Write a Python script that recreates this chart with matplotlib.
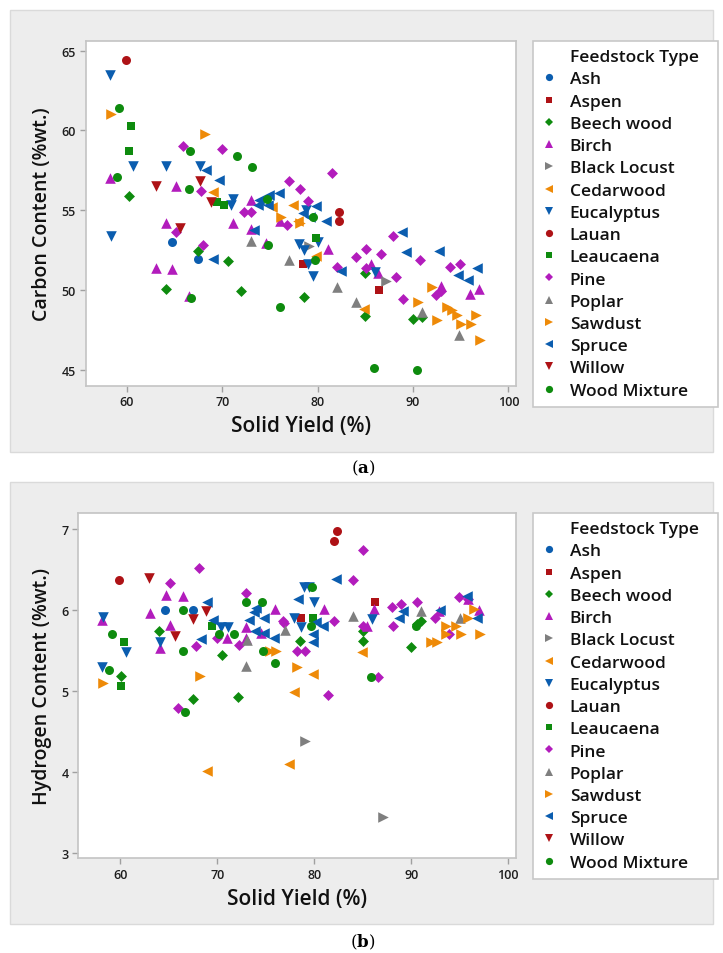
import matplotlib
matplotlib.use('Agg')
import matplotlib.pyplot as plt
from matplotlib.patches import Rectangle
from matplotlib.lines import Line2D

# ---------------- data: (solid yield %, carbon %wt.) ----------------
ash_c = [(64.7, 53.0), (67.5, 51.95)]
aspen_c = [(78.5, 51.6), (86.4, 50.0)]
beech_c = [(60.2, 55.9), (64.1, 50.05), (67.5, 52.45), (70.6, 51.8), (72.0, 49.9),
           (78.6, 49.55), (85.0, 51.05), (85.0, 48.35), (90.0, 48.2), (91.0, 48.3)]
birch_c = [(58.2, 57.0), (65.15, 56.5), (64.1, 54.2), (63.1, 51.35), (64.7, 51.3),
           (66.5, 49.6), (71.15, 54.2), (73.05, 55.65), (73.05, 53.8), (74.55, 52.95),
           (76.1, 54.35), (81.1, 52.55), (85.6, 51.6), (86.3, 51.05), (92.9, 50.25),
           (95.95, 49.75), (96.9, 50.05)]
blacklocust_c = [(79.1, 52.75), (87.2, 50.55)]
cedarwood_c = [(69.0, 56.15), (75.2, 55.2), (77.4, 55.3), (78.0, 54.3), (79.85, 52.15),
               (84.9, 48.8)]
eucalyptus_c = [(58.2, 63.5), (58.3, 53.4), (60.7, 57.75), (64.1, 57.75), (67.65, 57.75),
                (71.1, 55.7), (70.9, 55.35), (78.1, 52.9), (78.6, 52.5), (78.8, 55.0),
                (80.0, 53.0), (79.0, 51.65), (79.5, 50.9), (86.05, 51.1)]
lauan_c = [(59.9, 64.4), (82.2, 54.9), (82.3, 54.35)]
leaucaena_c = [(60.45, 60.25), (60.2, 58.7), (69.5, 55.5), (70.2, 55.35), (79.8, 53.25)]
pine_c = [(65.9, 59.05), (70.0, 58.85), (67.75, 56.2), (65.2, 53.65), (68.0, 52.8),
          (72.25, 54.9), (73.05, 54.9), (77.0, 56.8), (78.2, 56.35), (79.0, 55.6),
          (81.5, 57.35), (76.8, 54.1), (82.05, 51.45), (84.0, 52.05), (85.1, 52.55),
          (86.65, 52.25), (85.05, 51.4), (88.2, 50.8), (87.9, 53.35), (89.0, 49.4),
          (90.7, 51.85), (92.4, 49.7), (92.9, 49.9), (93.85, 51.45), (94.9, 51.6)]
poplar_c = [(73.05, 53.05), (77.0, 51.85), (82.05, 50.2), (84.0, 49.25), (90.9, 48.6),
            (94.85, 47.15)]
sawdust_c = [(58.3, 61.0), (68.2, 59.8), (76.2, 54.6), (78.2, 54.2), (92.0, 50.2),
             (90.55, 49.25), (92.55, 48.1), (93.55, 48.9), (94.05, 48.75), (94.65, 48.45),
             (96.6, 48.45), (95.05, 47.85), (96.05, 47.85), (97.0, 46.85)]
spruce_c = [(68.35, 57.5), (69.65, 56.9), (69.0, 51.95), (73.3, 53.75), (73.9, 55.65),
            (74.95, 55.95), (75.95, 56.05), (73.75, 55.35), (74.8, 55.35), (78.5, 54.85),
            (79.85, 55.25), (80.9, 54.35), (79.2, 54.6), (82.45, 51.2), (88.85, 53.6),
            (89.25, 52.4), (92.7, 52.45), (96.75, 51.35), (94.75, 50.95), (95.8, 50.6)]
willow_c = [(63.05, 56.5), (67.65, 56.8), (68.8, 55.5), (65.55, 53.9)]
woodmix_c = [(59.2, 61.4), (59.0, 57.1), (66.6, 58.7), (71.6, 58.4), (73.1, 57.7),
             (66.5, 56.3), (74.7, 55.7), (79.5, 54.55), (74.8, 52.8), (66.75, 49.5),
             (76.05, 48.95), (79.75, 51.9), (85.95, 45.1), (90.45, 45.0)]

# ---------------- data: (solid yield %, hydrogen %wt.) ----------------
ash_h = [(64.6, 6.0), (67.55, 6.0)]
aspen_h = [(78.6, 5.9), (86.3, 6.1)]
beech_h = [(60.05, 5.18), (64.0, 5.74), (67.55, 4.9), (70.5, 5.44), (72.1, 4.92),
           (78.55, 5.62), (85.0, 5.74), (85.0, 5.62), (91.0, 5.87), (90.6, 5.83),
           (89.95, 5.55)]
birch_h = [(58.1, 5.88), (63.1, 5.96), (64.7, 6.19), (66.5, 6.18), (65.1, 5.82),
           (64.1, 5.53), (71.05, 5.66), (73.0, 5.79), (73.0, 5.65), (74.5, 5.72),
           (76.0, 6.01), (81.0, 6.01), (86.2, 6.01), (85.4, 5.81), (92.85, 5.99),
           (95.9, 6.14), (96.95, 6.0)]
blacklocust_h = [(79.1, 4.38), (87.1, 3.44)]
cedarwood_h = [(68.95, 4.01), (77.35, 4.1), (77.9, 4.99), (79.85, 5.21), (84.9, 5.48)]
eucalyptus_h = [(58.25, 5.92), (60.6, 5.48), (64.1, 5.6), (58.1, 5.3), (70.4, 5.79),
                (71.1, 5.79), (77.95, 5.9), (78.65, 5.79), (78.9, 6.29), (79.5, 6.29),
                (80.0, 6.1), (85.95, 5.89)]
lauan_h = [(59.9, 6.37), (82.3, 6.98), (82.05, 6.85)]
leaucaena_h = [(60.4, 5.6), (60.05, 5.06), (69.5, 5.8), (79.85, 5.9)]
pine_h = [(68.1, 6.52), (65.1, 6.33), (65.95, 4.79), (67.85, 5.56), (70.0, 5.65),
          (72.2, 5.57), (73.0, 6.21), (76.8, 5.87), (76.9, 5.84), (78.2, 5.5),
          (79.0, 5.5), (81.4, 4.95), (82.05, 5.86), (84.0, 6.37), (85.05, 6.74),
          (85.0, 5.81), (86.6, 5.17), (88.0, 6.04), (88.9, 6.07), (88.15, 5.8),
          (90.6, 6.1), (92.45, 5.9), (93.9, 5.7), (94.9, 6.16), (95.85, 6.14)]
poplar_h = [(73.05, 5.63), (73.0, 5.31), (77.0, 5.76), (84.0, 5.93), (91.0, 5.99),
            (95.0, 5.9)]
sawdust_h = [(58.25, 5.1), (68.25, 5.19), (75.4, 5.5), (76.1, 5.5), (78.2, 5.3),
             (92.0, 5.6), (92.7, 5.6), (93.55, 5.8), (94.6, 5.8), (93.55, 5.7),
             (95.15, 5.7), (97.1, 5.7), (95.9, 5.9), (96.45, 6.01)]
spruce_h = [(68.95, 6.1), (68.35, 5.64), (69.55, 5.88), (73.95, 6.03), (73.75, 5.98),
            (73.25, 5.88), (74.85, 5.9), (73.85, 5.74), (74.85, 5.72), (75.85, 5.65),
            (80.2, 5.85), (80.9, 5.81), (79.85, 5.7), (79.85, 5.6), (82.25, 6.39),
            (78.3, 6.14), (89.1, 5.99), (88.75, 5.9), (93.0, 6.0), (95.8, 6.17),
            (96.8, 5.9)]
willow_h = [(62.95, 6.4), (68.8, 5.99), (67.55, 5.89), (65.6, 5.68)]
woodmix_h = [(59.2, 5.7), (58.85, 5.26), (66.5, 6.0), (66.5, 5.49), (66.65, 4.74),
             (70.2, 5.7), (71.7, 5.7), (73.0, 6.1), (74.6, 6.1), (74.7, 5.5),
             (76.0, 5.34), (79.7, 5.81), (79.75, 6.29), (85.9, 5.17), (90.45, 5.8)]

categories = ["Ash", "Aspen", "Beech wood", "Birch", "Black Locust", "Cedarwood",
              "Eucalyptus", "Lauan", "Leaucaena", "Pine", "Poplar", "Sawdust",
              "Spruce", "Willow", "Wood Mixture"]
carbon_sets = [ash_c, aspen_c, beech_c, birch_c, blacklocust_c, cedarwood_c, eucalyptus_c,
               lauan_c, leaucaena_c, pine_c, poplar_c, sawdust_c, spruce_c, willow_c, woodmix_c]
hydrogen_sets = [ash_h, aspen_h, beech_h, birch_h, blacklocust_h, cedarwood_h, eucalyptus_h,
                 lauan_h, leaucaena_h, pine_h, poplar_h, sawdust_h, spruce_h, willow_h, woodmix_h]
x_ticks = [60, 70, 80, 90, 100]
c_ticks = [45, 50, 55, 60, 65]
h_ticks = [3, 4, 5, 6, 7]

# ---------------- styles ----------------
BLUE = '#0B5DAF'
RED = '#AE1216'
GREEN = '#0E8B0E'
MAGENTA = '#B21CBC'
GRAY = '#7F7F7F'
ORANGE = '#EE8A08'
colors = [BLUE, RED, GREEN, MAGENTA, GRAY, ORANGE, BLUE, RED, GREEN, MAGENTA, GRAY,
          ORANGE, BLUE, RED, GREEN]
markers = ['o', 's', 'D', '^', '>', '<', 'v', 'o', 's', 'D', '^', '>', '<', 'v', 'o']
sizes = {'o': 42, 's': 40, 'D': 31, '^': 58, 'v': 58, '<': 58, '>': 58}
leg_ms = {'o': 5.2, 's': 5.0, 'D': 4.2, '^': 6.4, 'v': 6.4, '<': 6.4, '>': 6.4}

plt.rcParams['font.family'] = ['Open Sans', 'DejaVu Sans']
plt.rcParams['mathtext.fontset'] = 'dejavuserif'

W, H = 723, 954
fig = plt.figure(figsize=(W / 100, H / 100), dpi=100)
fig.patch.set_facecolor('white')


def fx(px):
    return px / W


def fy(py):
    return 1 - py / H


# gray panel backgrounds
for (x0, y0, x1, y1) in [(10, 11, 713, 453), (10, 483, 713, 925)]:
    fig.patches.append(Rectangle((fx(x0), fy(y1)), fx(x1) - fx(x0), fy(y0) - fy(y1),
                                 transform=fig.transFigure, facecolor='#EDEDED',
                                 edgecolor='#DADADA', linewidth=1.0, zorder=0))


def make_panel(rect_px, sets, yticks, xlim, ylim, ylabel, legend_px):
    l, t, r, b = rect_px
    ax = fig.add_axes([fx(l), fy(b), fx(r) - fx(l), fy(t) - fy(b)])
    ax.set_zorder(2)
    ax.set_facecolor('white')
    for cat, pts, col, mk in zip(categories, sets, colors, markers):
        xs = [p[0] for p in pts]
        ys = [p[1] for p in pts]
        ax.scatter(xs, ys, marker=mk, s=sizes[mk], color=col, linewidths=0, zorder=3)
    ax.set_xlim(*xlim)
    ax.set_ylim(*ylim)
    ax.set_xticks(x_ticks)
    ax.set_yticks(yticks)
    for sp in ax.spines.values():
        sp.set_color('#C4C4C4')
        sp.set_linewidth(1.2)
    ax.tick_params(axis='both', direction='out', length=4, width=1, color='#A0A0A0',
                   labelsize=9, labelcolor='#1E1E1E', pad=3)
    for lab in ax.get_xticklabels() + ax.get_yticklabels():
        lab.set_fontweight('semibold')
    ax.set_xlabel('Solid Yield (%)', fontsize=15, fontweight='semibold', color='#111111',
                  labelpad=5)
    ax.set_ylabel(ylabel, fontsize=14, fontweight='semibold', color='#111111', labelpad=7)

    handles = [Line2D([], [], linestyle='none', marker=None)]
    labels = ['Feedstock Type']
    for cat, col, mk in zip(categories, colors, markers):
        handles.append(Line2D([], [], linestyle='none', marker=mk, color=col,
                              markersize=leg_ms[mk], markeredgewidth=0))
        labels.append(cat)
    lx0, ly0, lx1, ly1 = legend_px
    leg = ax.legend(handles, labels, loc='upper left',
                    bbox_to_anchor=(fx(lx0), fy(ly1), fx(lx1) - fx(lx0), fy(ly0) - fy(ly1)),
                    bbox_transform=fig.transFigure, mode='expand', borderaxespad=0,
                    frameon=True, fancybox=False, edgecolor='#C8C8C8', facecolor='white',
                    framealpha=1, prop={'size': 12.5, 'weight': 'semibold'},
                    handlelength=1.0, handletextpad=0.69, labelspacing=0.35,
                    borderpad=0.45)
    leg.get_frame().set_linewidth(1.2)
    for txt in leg.get_texts():
        txt.set_color('#111111')
    return ax


make_panel((85.7, 42.3, 516, 386.7), carbon_sets, c_ticks, (55.7, 100.8), (43.99, 65.59),
           'Carbon Content (%wt.)', (532.7, 42.3, 718.3, 404))
make_panel((78.3, 514.3, 516, 859), hydrogen_sets, h_ticks, (55.68, 100.8), (2.934, 7.198),
           'Hydrogen Content (%wt.)', (532.7, 514.3, 718.3, 876))

for lab, py in [('a', 468), ('b', 942)]:
    fig.text(fx(363), fy(py), r'($\mathbf{' + lab + r'}$)', fontsize=12,
             family='DejaVu Serif', ha='center', va='center')

fig.savefig('out.png', dpi=100)
